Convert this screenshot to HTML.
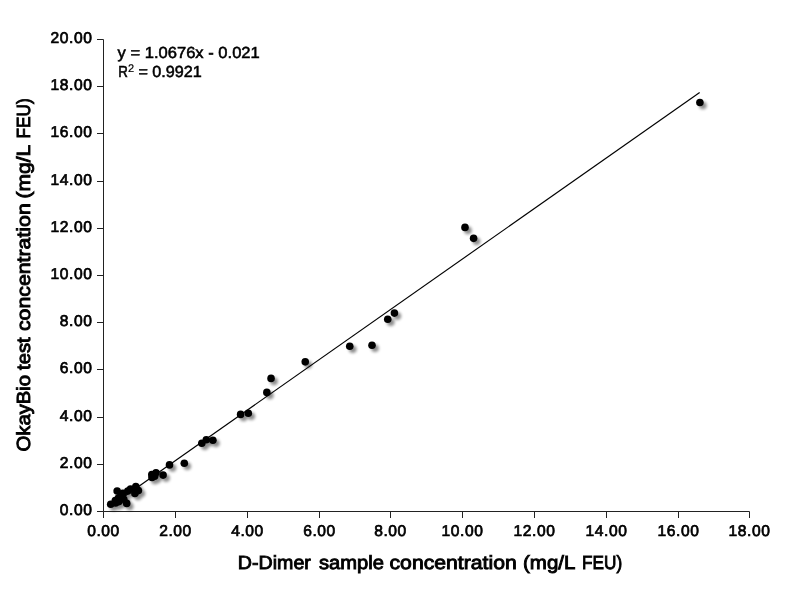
<!DOCTYPE html>
<html><head><meta charset="utf-8"><style>
html,body{margin:0;padding:0;background:#fff;}
svg{display:block;will-change:transform;}
text{font-family:"Liberation Sans",sans-serif;text-rendering:geometricPrecision;}
</style></head><body>
<svg width="787" height="600" viewBox="0 0 787 600">
<defs>
<filter id="sh" x="-100%" y="-100%" width="300%" height="300%">
<feGaussianBlur in="SourceAlpha" stdDeviation="1.8"/>
<feOffset dx="2.5" dy="2.5" result="o"/>
<feComponentTransfer><feFuncA type="linear" slope="0.45"/></feComponentTransfer>
<feMerge><feMergeNode/><feMergeNode in="SourceGraphic"/></feMerge>
</filter>
</defs>
<rect width="787" height="600" fill="#fff"/>

<path d="M103.5 39.5V511.5H749.5" fill="none" stroke="#222" stroke-width="1"/>
<path d="M97 511.5H103.5M97 464.5H103.5M97 417.5H103.5M97 369.5H103.5M97 322.5H103.5M97 275.5H103.5M97 228.5H103.5M97 181.5H103.5M97 133.5H103.5M97 86.5H103.5M97 39.5H103.5M103.5 511.5V518M175.5 511.5V518M247.5 511.5V518M319.5 511.5V518M390.5 511.5V518M462.5 511.5V518M534.5 511.5V518M606.5 511.5V518M678.5 511.5V518M749.5 511.5V518" fill="none" stroke="#222" stroke-width="1"/>
<text x="92.5" y="515.3" font-size="15.6" stroke="#000" stroke-width="0.7" letter-spacing="0.6" text-anchor="end" fill="#000">0.00</text>
<text x="92.5" y="468.3" font-size="15.6" stroke="#000" stroke-width="0.7" letter-spacing="0.6" text-anchor="end" fill="#000">2.00</text>
<text x="92.5" y="421.3" font-size="15.6" stroke="#000" stroke-width="0.7" letter-spacing="0.6" text-anchor="end" fill="#000">4.00</text>
<text x="92.5" y="373.3" font-size="15.6" stroke="#000" stroke-width="0.7" letter-spacing="0.6" text-anchor="end" fill="#000">6.00</text>
<text x="92.5" y="326.3" font-size="15.6" stroke="#000" stroke-width="0.7" letter-spacing="0.6" text-anchor="end" fill="#000">8.00</text>
<text x="92.5" y="279.3" font-size="15.6" stroke="#000" stroke-width="0.7" letter-spacing="0.6" text-anchor="end" fill="#000">10.00</text>
<text x="92.5" y="232.3" font-size="15.6" stroke="#000" stroke-width="0.7" letter-spacing="0.6" text-anchor="end" fill="#000">12.00</text>
<text x="92.5" y="185.3" font-size="15.6" stroke="#000" stroke-width="0.7" letter-spacing="0.6" text-anchor="end" fill="#000">14.00</text>
<text x="92.5" y="137.3" font-size="15.6" stroke="#000" stroke-width="0.7" letter-spacing="0.6" text-anchor="end" fill="#000">16.00</text>
<text x="92.5" y="90.3" font-size="15.6" stroke="#000" stroke-width="0.7" letter-spacing="0.6" text-anchor="end" fill="#000">18.00</text>
<text x="92.5" y="43.3" font-size="15.6" stroke="#000" stroke-width="0.7" letter-spacing="0.6" text-anchor="end" fill="#000">20.00</text>
<text x="103.5" y="536.3" font-size="15.6" stroke="#000" stroke-width="0.7" letter-spacing="0.6" text-anchor="middle" fill="#000">0.00</text>
<text x="175.5" y="536.3" font-size="15.6" stroke="#000" stroke-width="0.7" letter-spacing="0.6" text-anchor="middle" fill="#000">2.00</text>
<text x="247.5" y="536.3" font-size="15.6" stroke="#000" stroke-width="0.7" letter-spacing="0.6" text-anchor="middle" fill="#000">4.00</text>
<text x="319.5" y="536.3" font-size="15.6" stroke="#000" stroke-width="0.7" letter-spacing="0.6" text-anchor="middle" fill="#000">6.00</text>
<text x="390.5" y="536.3" font-size="15.6" stroke="#000" stroke-width="0.7" letter-spacing="0.6" text-anchor="middle" fill="#000">8.00</text>
<text x="462.5" y="536.3" font-size="15.6" stroke="#000" stroke-width="0.7" letter-spacing="0.6" text-anchor="middle" fill="#000">10.00</text>
<text x="534.5" y="536.3" font-size="15.6" stroke="#000" stroke-width="0.7" letter-spacing="0.6" text-anchor="middle" fill="#000">12.00</text>
<text x="606.5" y="536.3" font-size="15.6" stroke="#000" stroke-width="0.7" letter-spacing="0.6" text-anchor="middle" fill="#000">14.00</text>
<text x="678.5" y="536.3" font-size="15.6" stroke="#000" stroke-width="0.7" letter-spacing="0.6" text-anchor="middle" fill="#000">16.00</text>
<text x="749.5" y="536.3" font-size="15.6" stroke="#000" stroke-width="0.7" letter-spacing="0.6" text-anchor="middle" fill="#000">18.00</text>
<g font-size="19.0" stroke="#000" stroke-width="0.9" fill="#000"><text x="237.86" y="569.4" textLength="73.01" lengthAdjust="spacingAndGlyphs">D-Dimer</text><text x="318.96" y="569.4" textLength="64.94" lengthAdjust="spacingAndGlyphs">sample</text><text x="389.51" y="569.4" textLength="127.25" lengthAdjust="spacingAndGlyphs">concentration</text><text x="523.03" y="569.4" textLength="52.36" lengthAdjust="spacingAndGlyphs">(mg/L</text><text x="582.12" y="569.4" textLength="40.06" lengthAdjust="spacingAndGlyphs">FEU)</text></g>
<g transform="translate(30.4 0) rotate(-90)" font-size="19.0" stroke="#000" stroke-width="0.9" fill="#000"><text x="-451.48" y="0" textLength="76.56" lengthAdjust="spacingAndGlyphs">OkayBio</text><text x="-369.97" y="0" textLength="32.63" lengthAdjust="spacingAndGlyphs">test</text><text x="-331.09" y="0" textLength="127.81" lengthAdjust="spacingAndGlyphs">concentration</text><text x="-198.48" y="0" textLength="53.79" lengthAdjust="spacingAndGlyphs">(mg/L</text><text x="-138.47" y="0" textLength="40.11" lengthAdjust="spacingAndGlyphs">FEU)</text></g>
<text x="117.6" y="57.9" font-size="16" stroke="#000" stroke-width="0.55" fill="#000" textLength="142.2" lengthAdjust="spacingAndGlyphs">y = 1.0676x - 0.021</text>
<text x="118.2" y="76.7" font-size="16" stroke="#000" stroke-width="0.55" fill="#000" textLength="9.6" lengthAdjust="spacingAndGlyphs">R</text>
<text x="128.0" y="71.7" font-size="11" stroke="#000" stroke-width="0.2" fill="#000">2</text>
<text x="138.4" y="76.7" font-size="16" stroke="#000" stroke-width="0.55" fill="#000" textLength="63.4" lengthAdjust="spacingAndGlyphs">= 0.9921</text>
<line x1="110.8" y1="505.92" x2="699.65" y2="92.43" stroke="#000" stroke-width="1.15"/>
<g filter="url(#sh)" fill="#000"><circle cx="110.7" cy="504.3" r="3.8"/><circle cx="115.6" cy="503.0" r="3.8"/><circle cx="119.0" cy="501.6" r="3.8"/><circle cx="115.3" cy="500.5" r="3.8"/><circle cx="118.4" cy="498.0" r="3.8"/><circle cx="117.15" cy="491.0" r="3.8"/><circle cx="120.9" cy="495.4" r="3.8"/><circle cx="123.0" cy="493.2" r="3.8"/><circle cx="123.8" cy="499.2" r="3.8"/><circle cx="126.7" cy="503.4" r="3.8"/><circle cx="127.8" cy="491.0" r="3.8"/><circle cx="130.5" cy="489.1" r="3.8"/><circle cx="135.8" cy="486.6" r="3.8"/><circle cx="138.4" cy="490.6" r="3.8"/><circle cx="134.9" cy="493.4" r="3.8"/><circle cx="151.8" cy="474.5" r="3.8"/><circle cx="152.0" cy="477.5" r="3.8"/><circle cx="154.6" cy="476.2" r="3.8"/><circle cx="156" cy="472.8" r="3.8"/><circle cx="163.1" cy="475.1" r="3.8"/><circle cx="169.5" cy="464.9" r="3.8"/><circle cx="184.3" cy="463.2" r="3.8"/><circle cx="201.8" cy="443.3" r="3.8"/><circle cx="206.3" cy="439.7" r="3.8"/><circle cx="212.9" cy="440.2" r="3.8"/><circle cx="240.6" cy="414.4" r="3.8"/><circle cx="248.3" cy="413.3" r="3.8"/><circle cx="266.85" cy="392.4" r="3.8"/><circle cx="271.05" cy="378.4" r="3.8"/><circle cx="305.25" cy="361.85" r="3.8"/><circle cx="349.76" cy="346.2" r="3.8"/><circle cx="372.0" cy="345.2" r="3.8"/><circle cx="387.75" cy="319.25" r="3.8"/><circle cx="394.4" cy="313.1" r="3.8"/><circle cx="465.0" cy="227.4" r="3.8"/><circle cx="473.6" cy="238.35" r="3.8"/><circle cx="699.9" cy="102.5" r="3.8"/></g>
</svg></body></html>
